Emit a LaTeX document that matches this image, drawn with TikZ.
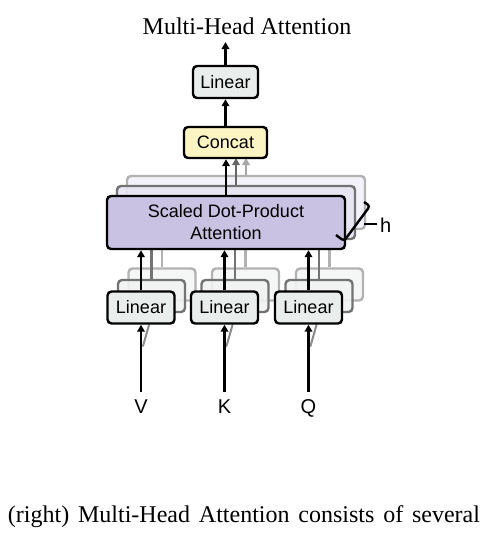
\documentclass[tikz,border=0pt]{standalone}
\usepackage{fontspec}
\setmainfont{Liberation Serif}
\setsansfont{Liberation Sans}
\usetikzlibrary{arrows.meta, positioning}
\definecolor{linfill}{RGB}{233,238,237}
\definecolor{catfill}{RGB}{252,244,194}
\definecolor{attfill}{RGB}{201,194,226}

\begin{document}
\begin{tikzpicture}[x=1pt, y=-1pt,
    box/.style={draw, line width=2.4pt, rounded corners=4pt, inner sep=0pt, align=center,
      font=\sffamily\fontsize{18}{22}\selectfont},
    linbox/.style={box, fill=linfill, minimum width=67pt, minimum height=32pt},
    attbox/.style={box, fill=attfill, minimum width=238pt, minimum height=53pt},
    ghostb/.style={draw=black!55, fill opacity=0.9},
    ghostc/.style={draw=black!30, fill opacity=0.9},
    arr/.style={line width=2.4pt, -{Triangle[length=7pt, width=7.5pt]}},
    lbl/.style={font=\sffamily\fontsize{20}{24}\selectfont},
  ]
  \useasboundingbox (0,0) rectangle (498,544);

  % back copies of the heads
  \node[attbox, ghostc, fill=attfill!25] (sdpa-c) at (246,202.5) {};
  \node[attbox, ghostb, fill=attfill!45] (sdpa-b) at (236,212.5) {};
  \draw[arr, black!35] (sdpa-c.north) -- (sdpa-c.north |- 0,158);
  \draw[arr, black!60] (sdpa-b.north) -- (sdpa-b.north |- 0,158);

  \foreach \nm/\x in {V/141, K/224.5, Q/308.5} {
    \node[linbox, ghostc, fill=linfill!50] (lin\nm-c) at (\x+21,284.5) {};
    \draw[line width=2.4pt, black!30] (lin\nm-c.north) -- (lin\nm-c.north |- sdpa-c.south);
    \node[linbox, ghostb, fill=linfill!70] (lin\nm-b) at (\x+10.5,296) {};
    \draw[line width=2.4pt, black!55] (lin\nm-b.north) -- (lin\nm-b.north |- sdpa-b.south);
    \draw[line width=2pt, black!45, line cap=round] (\x+8,325) -- (\x+2,346);
    \node[linbox] (lin\nm) at (\x,307.5) {Linear};
    \node[lbl, anchor=base] (in\nm) at (\x,413) {\nm};
    \draw[arr] (in\nm.north) ++(0,-4) -- (lin\nm.south);
  }

  % front head
  \node[attbox] (sdpa) at (226,222.5) {Scaled Dot-Product\\Attention};
  \foreach \nm in {V, K, Q}
    \draw[arr] (lin\nm.north) -- (lin\nm.north |- sdpa.south);

  \node[box, fill=catfill, minimum width=83pt, minimum height=31pt] (concat) at (225.5,142.5) {Concat};
  \node[box, fill=linfill, minimum width=65pt, minimum height=32pt] (linOut) at (225.5,82) {Linear};
  \coordinate (out) at (225.5,42);
  \draw[arr] (sdpa.north) -- (sdpa.north |- concat.south);
  \draw[arr] (concat) -- (linOut);
  \draw[arr] (linOut) -- (out);

  % h brace
  \draw[line width=2.4pt, rounded corners=3pt] (336,235) -- (344,241) -- (370,206) -- (364,202);
  \node[lbl, anchor=base west, inner sep=0pt] (hlab) at (380,232) {h};
  \coordinate (tick) at (364,224);
  \draw[line width=1.6pt] (tick) -- ([xshift=-3pt]hlab.west |- tick);

  \node[font=\fontsize{24}{28}\selectfont, anchor=base] (title) at (247,34) {Multi-Head Attention};
  \node[font=\fontsize{24}{28}\selectfont, anchor=base] (caption) at (244,522)
    {\makebox[472pt][s]{(right) Multi-Head Attention consists of several}};
\end{tikzpicture}
\end{document}
